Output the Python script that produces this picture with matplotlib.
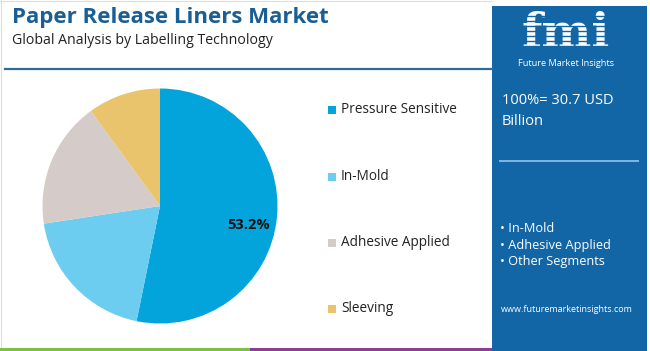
import matplotlib.pyplot as plt
from matplotlib.patches import Rectangle

segments = ["Pressure Sensitive", "In-Mold", "Adhesive Applied", "Sleeving"]
shares = [53.2, 19.4, 17.4, 10.0]
colors = ["#03a3db", "#6dcdf0", "#d5cbc8", "#e9c46c"]
panel_items = ["In-Mold", "Adhesive Applied", "Other Segments"]
total_text = "100%= 30.7 USD\nBillion"

W, H = 650, 351
fig = plt.figure(figsize=(6.5, 3.51), dpi=100)
fig.patch.set_facecolor("white")

def fx(px):
    return px / W

def fy(py):
    return 1 - py / H

font = "Open Sans"

# titles
fig.text(fx(12), fy(18), "Paper Release Liners Market", fontsize=16, fontweight="bold",
         color="#1a5e96", family=font, va="center", ha="left")
fig.text(fx(12), fy(41), "Global Analysis by Labelling Technology", fontsize=10.2,
         color="#222222", family=font, va="center", ha="left")
fig.add_artist(plt.Line2D([fx(5), fx(492)], [fy(69), fy(69)], color="#2d6c9c", lw=1.6))

# thin outer frame and bottom bar
fig.add_artist(plt.Line2D([fx(1), fx(1)], [fy(0), fy(347)], color="#dddddd", lw=0.8))
fig.add_artist(plt.Line2D([fx(0), fx(492)], [fy(1), fy(1)], color="#dddddd", lw=0.8))
fig.add_artist(Rectangle((0, 0), fx(250), 3 / H, transform=fig.transFigure, color="#7cc242", lw=0))
fig.add_artist(Rectangle((fx(250), 0), fx(242), 3 / H, transform=fig.transFigure, color="#8e3c96", lw=0))

# pie
cx, cy, r = 160, 206, 117.5
ax = fig.add_axes([fx(cx - r), fy(cy + r), 2 * r / W, 2 * r / H])
ax.pie(shares, colors=colors, startangle=90, counterclock=False, radius=1,
       wedgeprops=dict(linewidth=0))
ax.set_xlim(-1, 1)
ax.set_ylim(-1, 1)
ax.set_aspect("auto")
ax.axis("off")
ax.text(0.75, -0.16, f"{shares[0]}%", fontsize=10.5, fontweight="bold", color="#111111",
        ha="center", va="center", family=font)

# legend
rows = [110, 177, 243, 309]
for name, col, ry in zip(segments, colors, rows):
    fig.add_artist(Rectangle((fx(328), fy(ry + 4)), 8 / W, 8 / H, transform=fig.transFigure,
                             color=col, lw=0))
    fig.text(fx(341), fy(ry), name, fontsize=9.8, color="#222222", family=font,
             va="center", ha="left")

# right panel
fig.add_artist(Rectangle((fx(492), 0), fx(155), fy(6), transform=fig.transFigure,
                         color="#1366a6", lw=0))
fig.text(fx(566), fy(47), "fmi", fontsize=34, fontweight="bold", color="white",
         family="DejaVu Serif", ha="center", va="baseline")
for sy in range(16, 48, 5):
    fig.add_artist(plt.Line2D([fx(512), fx(620)], [fy(sy), fy(sy)], color="#1366a6",
                              lw=1.0, zorder=10))
fig.text(fx(566), fy(63), "Future Market Insights", fontsize=6.6, color="white",
         family=font, ha="center", va="center")
fig.text(fx(502), fy(111), total_text, fontsize=10.5, color="white", family=font,
         ha="left", va="center", linespacing=1.5)
fig.add_artist(plt.Line2D([fx(500), fx(638)], [fy(161), fy(161)], color="#7fb6e3", lw=1.4))
for i, item in enumerate(panel_items):
    fig.text(fx(500), fy(228 + 17 * i), "\u2022 " + item, fontsize=9.2, color="white",
             family=font, ha="left", va="center")
fig.text(fx(567), fy(310), "www.futuremarketinsights.com", fontsize=6.5, color="white",
         family=font, ha="center", va="center")

fig.savefig("out.png", dpi=100, facecolor="white")
